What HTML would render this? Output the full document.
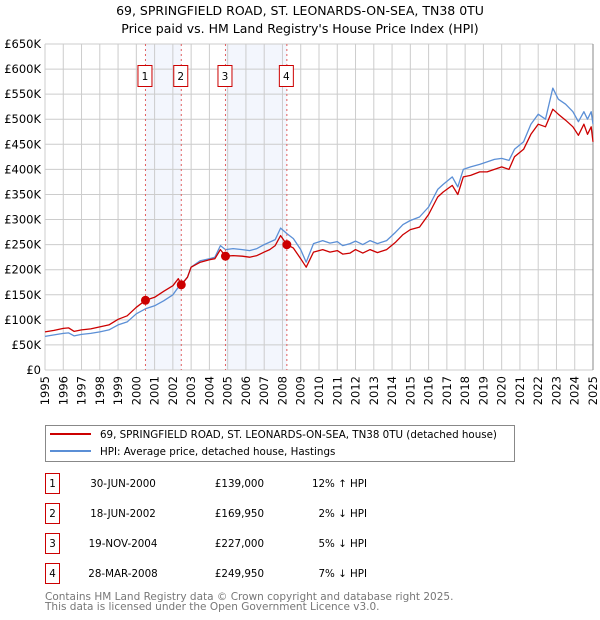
<!DOCTYPE html>
<html><head><meta charset="utf-8"><style>
html,body{margin:0;padding:0;background:#fff;width:600px;height:620px;overflow:hidden}
svg{display:block;font-family:"DejaVu Sans","Liberation Sans",sans-serif}
</style></head><body>
<svg id="chart" width="600" height="620" viewBox="0 0 600 620" xmlns="http://www.w3.org/2000/svg">
<text x="300" y="15" text-anchor="middle" font-size="12.5" fill="#000">69, SPRINGFIELD ROAD, ST. LEONARDS-ON-SEA, TN38 0TU</text>
<text x="300" y="33" text-anchor="middle" font-size="12.5" fill="#000">Price paid vs. HM Land Registry's House Price Index (HPI)</text>
<g id="shade"></g>
<g id="grid"></g>
<g id="lines"></g>
<g id="marks"></g>
<g id="axes"></g>

<g>
<rect x="45.5" y="425.5" width="469" height="36" fill="#fff" stroke="#888"/>
<line x1="50" y1="434" x2="91" y2="434" stroke="#cc0000" stroke-width="2"/>
<text x="100" y="438" font-size="10.3">69, SPRINGFIELD ROAD, ST. LEONARDS-ON-SEA, TN38 0TU (detached house)</text>
<line x1="50" y1="451" x2="91" y2="451" stroke="#5b8fd6" stroke-width="2"/>
<text x="100" y="455" font-size="10.3">HPI: Average price, detached house, Hastings</text>
</g>
<g id="table" font-size="10.3"></g>
<text x="45" y="600" font-size="10.5" fill="#777">Contains HM Land Registry data © Crown copyright and database right 2025.</text>
<text x="45" y="610" font-size="10.5" fill="#777">This data is licensed under the Open Government Licence v3.0.</text>
</svg>
<script>
const hpiYears=[1995.0,1995.5,1996.0,1996.3,1996.6,1997.0,1997.5,1998.0,1998.5,1999.0,1999.5,2000.0,2000.5,2001.0,2001.5,2002.0,2002.3,2002.46,2002.8,2003.0,2003.5,2004.0,2004.3,2004.6,2004.88,2005.3,2005.8,2006.2,2006.6,2007.0,2007.3,2007.6,2007.9,2008.24,2008.6,2009.0,2009.3,2009.7,2010.2,2010.6,2011.0,2011.3,2011.7,2012.0,2012.4,2012.8,2013.2,2013.7,2014.2,2014.6,2015.0,2015.5,2016.0,2016.5,2016.8,2017.3,2017.6,2017.9,2018.3,2018.8,2019.2,2019.6,2020.0,2020.4,2020.7,2021.2,2021.6,2022.0,2022.4,2022.8,2023.1,2023.5,2023.9,2024.2,2024.5,2024.7,2024.9,2025.0];
const hpiValues=[67,70,73,74,68,71,73,76,80,90,96,112,122,128,138,150,165,170,185,205,218,222,225,248,240,242,240,238,242,250,255,260,283,272,262,240,215,252,258,253,256,248,252,257,250,258,252,258,275,290,298,305,325,360,370,385,365,400,405,410,415,420,422,418,440,455,490,510,500,562,540,530,515,495,515,500,515,490];
const priceValues=[76,79,83,84,77,80,82,86,90,101,108,125,139,145,157,168,182,170,185,205,215,220,222,240,227,228,227,225,228,235,240,248,268,250,243,222,205,235,240,235,238,231,233,240,233,240,234,240,255,270,280,285,310,345,355,368,350,385,388,395,395,400,405,400,425,440,470,490,485,520,510,498,485,468,490,470,485,455];
const saleYears=[2000.5,2002.46,2004.88,2008.24];
const salePrices=[139,169.95,227,249.95];
const saleLabels=["1","2","3","4"];
const saleDates=["30-JUN-2000","18-JUN-2002","19-NOV-2004","28-MAR-2008"];
const salePriceText=["£139,000","£169,950","£227,000","£249,950"];
const saleHpiText=["12% \u2191 HPI","2% \u2193 HPI","5% \u2193 HPI","7% \u2193 HPI"];
const yTicks=[0,50,100,150,200,250,300,350,400,450,500,550,600,650];
const yTickLabels=["£0","£50K","£100K","£150K","£200K","£250K","£300K","£350K","£400K","£450K","£500K","£550K","£600K","£650K"];
const xTicks=[1995,1996,1997,1998,1999,2000,2001,2002,2003,2004,2005,2006,2007,2008,2009,2010,2011,2012,2013,2014,2015,2016,2017,2018,2019,2020,2021,2022,2023,2024,2025];

const NS="http://www.w3.org/2000/svg";
const X0=45,X1=593,Y0=370,Y1=44;
const xs=y=>X0+(y-1995)/30*(X1-X0);
const ys=v=>Y0-v/650*(Y0-Y1);
function mk(tag,attrs,parent){const e=document.createElementNS(NS,tag);for(const k in attrs)e.setAttribute(k,attrs[k]);parent.appendChild(e);return e;}
const shade=document.getElementById('shade'),grid=document.getElementById('grid'),lines=document.getElementById('lines'),marks=document.getElementById('marks'),axes=document.getElementById('axes'),table=document.getElementById('table');

for(let i=0;i<saleYears.length;i+=2){
  const r=mk('rect',{x:xs(saleYears[i]),y:Y1,width:xs(saleYears[i+1])-xs(saleYears[i]),height:Y0-Y1,fill:'#f3f6fd'},shade);
  
  
}
yTicks.forEach((v,i)=>{
  const l=mk('line',{x1:X0,x2:X1,y1:ys(v),y2:ys(v),stroke:'#cccccc','stroke-width':1},grid);
  
  
  const t=mk('text',{x:41,y:ys(v)+4,'text-anchor':'end','font-size':'11.5',fill:'#000'},axes);
  t.textContent=yTickLabels[i];
  
  
});
xTicks.forEach(yr=>{
  const l=mk('line',{x1:xs(yr),x2:xs(yr),y1:Y1,y2:Y0,stroke:'#cccccc','stroke-width':1},grid);
  
  
  const t=mk('text',{x:0,y:0,'text-anchor':'end','font-size':'11.5',fill:'#000',transform:`translate(${xs(yr)+4},${Y0+6}) rotate(-90)`},axes);
  t.textContent=yr;
  
  
});
const edge=mk('line',{x1:X1,x2:X1,y1:Y1,y2:Y0,stroke:'#888','stroke-width':1},grid);



saleYears.forEach((yr,i)=>{
  const d=mk('line',{x1:xs(yr),x2:xs(yr),y1:Y1,y2:Y0,stroke:'#e06060','stroke-width':1,'stroke-dasharray':'2,3'},marks);
  
  
});

function path(vals,color,name){
  const d=hpiYears.map((y,i)=>(i?'L':'M')+xs(y).toFixed(1)+','+ys(vals[i]).toFixed(1)).join('');
  const p=mk('path',{d:d,fill:'none',stroke:color,'stroke-width':1.3,'stroke-linejoin':'round'},lines);
  
  
}
path(hpiValues,'#5b8fd6','hpi-line');
path(priceValues,'#cc0000','price-paid-line');

saleYears.forEach((yr,i)=>{
  const c=mk('circle',{cx:xs(yr),cy:ys(salePrices[i]),r:4.5,fill:'#cc0000'},marks);
  
  
  const b=mk('rect',{x:xs(yr)-7.5,y:65.5,width:14,height:21,fill:'#fff',stroke:'#cc0000','stroke-width':1},marks);
  
  
  const t=mk('text',{x:xs(yr)-0.5,y:80,'text-anchor':'middle','font-size':'10.5'},marks);
  t.textContent=saleLabels[i];
  
  

  const cy=483+i*30;
  const tb=mk('rect',{x:45.5,y:cy-9.5,width:14,height:20,fill:'#fff',stroke:'#cc0000'},table);
  
  
  const tn=mk('text',{x:52.5,y:cy+4,'text-anchor':'middle'},table);
  tn.textContent=saleLabels[i];
  
  
  const td=mk('text',{x:123,y:cy+4,'text-anchor':'middle'},table);
  td.textContent=saleDates[i];
  
  
  const tp=mk('text',{x:264,y:cy+4,'text-anchor':'end'},table);
  tp.textContent=salePriceText[i];
  
  
  const th=mk('text',{x:367,y:cy+4,'text-anchor':'end'},table);
  th.textContent=saleHpiText[i];
  
  
});
</script>
</body></html>
